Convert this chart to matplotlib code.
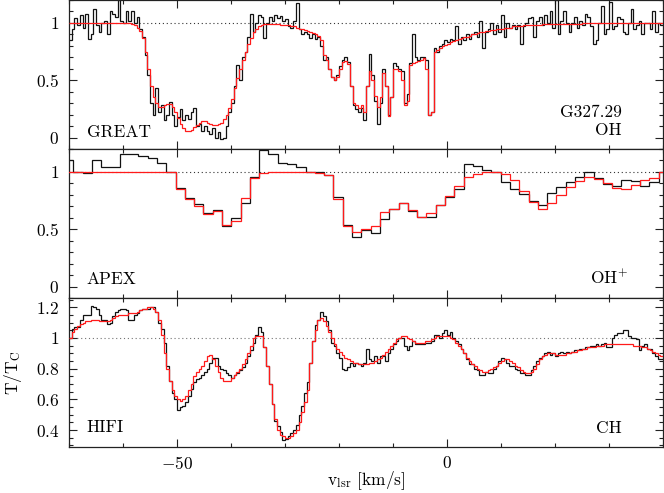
import numpy as np
import matplotlib
matplotlib.use("Agg")
import matplotlib.pyplot as plt
from matplotlib.ticker import MultipleLocator, FuncFormatter

plt.rcParams['font.family'] = ['cmr10', 'DejaVu Serif']
plt.rcParams['mathtext.fontset'] = 'cm'
plt.rcParams['axes.unicode_minus'] = False

# ---------------- data ----------------
# GREAT OH: channels of 0.5 km/s starting at -70 km/s
great_v0 = -70.0
great_dv = 0.5
great_obs = [
    0.85, 0.95, 1.04, 0.98, 1.07, 0.96, 1.08, 0.86, 0.90, 1.12,
    0.98, 0.92, 1.00, 1.02, 0.90, 1.10, 1.08, 1.05, 1.20, 1.02,
    1.00, 1.10, 1.02, 1.10, 1.00, 1.05, 0.95, 0.88, 0.72, 0.55,
    0.30, 0.20, 0.43, 0.22, 0.28, 0.15, 0.20, 0.31, 0.20, 0.10,
    0.18, 0.25, 0.15, 0.20, 0.16, 0.22, 0.26, 0.10, 0.12, 0.06,
    0.10, 0.06, 0.03, 0.08, 0.00, 0.05, -0.01, 0.00, 0.10, 0.22,
    0.30, 0.45, 0.63, 0.50, 0.70, 0.75, 0.88, 1.08, 0.92, 1.00,
    1.07, 1.05, 0.87, 1.00, 1.05, 1.02, 1.07, 1.04, 1.06, 1.02,
    1.03, 0.97, 0.96, 1.02, 1.17, 0.95, 0.90, 0.92, 0.90, 0.87,
    0.90, 0.86, 0.88, 0.80, 0.68, 0.70, 0.60, 0.53, 0.50, 0.55,
    0.62, 0.68, 0.70, 0.66, 0.45, 0.28, 0.25, 0.22, 0.26, 0.15,
    0.45, 0.73, 0.55, 0.32, 0.12, 0.30, 0.60, 0.45, 0.20, 0.35,
    0.65, 0.62, 0.60, 0.58, 0.30, 0.38, 0.65, 0.90, 0.70, 0.68,
    0.70, 0.70, 0.68, 0.20, 0.22, 0.78, 0.75, 0.80, 0.82, 0.85,
    0.83, 0.86, 0.85, 0.97, 0.82, 0.88, 0.85, 0.90, 0.86, 0.90,
    0.92, 0.88, 1.02, 0.78, 0.92, 0.95, 1.00, 0.90, 0.98, 0.92,
    1.07, 0.88, 1.00, 0.96, 0.98, 0.95, 0.98, 0.82, 0.97, 1.00,
    1.04, 1.05, 0.88, 1.02, 1.05, 0.98, 1.07, 1.00, 1.10, 0.96,
    1.20, 0.90, 1.02, 1.10, 1.00, 0.92, 1.00, 1.05, 0.96, 1.02,
    0.98, 1.08, 1.05, 0.97, 0.82, 0.85, 1.00, 1.15, 0.90, 0.95,
    1.18, 0.95, 0.97, 1.05, 1.03, 0.92, 0.90, 1.00, 1.12, 0.95,
    0.98, 1.02, 0.90, 1.00, 1.00, 0.95, 1.10, 0.92, 1.00, 0.98,
]
great_model = [
    1.00, 1.00, 1.00, 1.00, 1.00, 1.00, 1.00, 1.00, 1.00, 1.00,
    1.00, 1.00, 1.00, 1.00, 1.00, 1.00, 1.00, 1.00, 1.00, 1.00,
    1.00, 1.00, 1.00, 0.99, 0.98, 0.96, 0.93, 0.87, 0.75, 0.60,
    0.45, 0.35, 0.30, 0.27, 0.27, 0.28, 0.29, 0.29, 0.27, 0.22,
    0.17, 0.12, 0.08, 0.06, 0.06, 0.07, 0.09, 0.11, 0.13, 0.14,
    0.14, 0.13, 0.12, 0.11, 0.11, 0.12, 0.13, 0.16, 0.20, 0.26,
    0.34, 0.43, 0.52, 0.60, 0.68, 0.75, 0.82, 0.87, 0.92, 0.95,
    0.97, 0.98, 0.99, 0.99, 0.99, 0.99, 0.99, 0.99, 0.98, 0.98,
    0.98, 0.98, 0.97, 0.97, 0.96, 0.95, 0.95, 0.94, 0.93, 0.92,
    0.91, 0.90, 0.89, 0.85, 0.72, 0.68, 0.60, 0.53, 0.50, 0.53,
    0.60, 0.66, 0.67, 0.64, 0.45, 0.30, 0.28, 0.26, 0.28, 0.22,
    0.45, 0.58, 0.50, 0.36, 0.27, 0.35, 0.56, 0.45, 0.19, 0.35,
    0.60, 0.60, 0.58, 0.50, 0.28, 0.32, 0.63, 0.65, 0.66, 0.67,
    0.68, 0.69, 0.60, 0.20, 0.22, 0.75, 0.76, 0.78, 0.80, 0.81,
    0.82, 0.83, 0.84, 0.85, 0.86, 0.87, 0.88, 0.88, 0.89, 0.90,
    0.90, 0.91, 0.92, 0.92, 0.93, 0.93, 0.94, 0.94, 0.95, 0.95,
    0.95, 0.96, 0.96, 0.96, 0.97, 0.97, 0.97, 0.97, 0.98, 0.98,
    0.98, 0.98, 0.98, 0.98, 0.98, 0.99, 0.99, 0.99, 0.99, 0.99,
    0.99, 0.99, 0.99, 0.99, 0.99, 0.99, 0.99, 0.99, 0.99, 0.99,
    1.00, 1.00, 1.00, 1.00, 1.00, 1.00, 1.00, 1.00, 1.00, 1.00,
    1.00, 1.00, 1.00, 1.00, 1.00, 1.00, 1.00, 1.00, 1.00, 1.00,
    1.00, 1.00, 1.00, 1.00, 1.00, 1.00, 1.00, 1.00, 1.00, 1.00,
]

# APEX OH+: channels of 1.72 km/s starting at -70.9 km/s
apex_v0 = -70.9
apex_dv = 1.72
apex_obs = [
    1.10, 1.00, 0.99, 1.10, 1.04, 1.04, 1.16, 1.16, 1.14, 1.12,
    1.08, 1.00, 0.86, 0.77, 0.72, 0.64, 0.67, 0.53, 0.60, 0.73,
    0.96, 1.195, 1.16, 1.08, 1.07, 1.04, 1.00, 1.00, 0.97, 0.78,
    0.54, 0.43, 0.49, 0.47, 0.59, 0.68, 0.73, 0.66, 0.61, 0.61,
    0.71, 0.78, 0.85, 1.065, 1.05, 1.02, 1.00, 0.91, 0.85, 0.81,
    0.75, 0.71, 0.82, 0.865, 0.91, 0.96, 1.00, 0.95, 0.895, 0.88,
    0.93, 0.92, 0.88, 0.91, 1.00,
]
apex_model = [
    1.00, 1.00, 1.00, 1.00, 1.00, 1.00, 1.00, 1.00, 1.00, 1.00,
    1.00, 1.00, 0.85, 0.76, 0.70, 0.63, 0.66, 0.535, 0.57, 0.77,
    0.95, 0.99, 1.00, 1.00, 1.00, 1.00, 1.00, 0.99, 0.97, 0.76,
    0.53, 0.48, 0.50, 0.53, 0.65, 0.68, 0.73, 0.67, 0.605, 0.64,
    0.71, 0.79, 0.88, 0.956, 0.985, 0.997, 1.00, 0.985, 0.93, 0.83,
    0.74, 0.68, 0.73, 0.80, 0.865, 0.92, 0.953, 0.94, 0.90, 0.86,
    0.854, 0.89, 0.93, 0.95, 1.00,
]

# HIFI CH: channels of 0.5 km/s starting at -70 km/s
hifi_v0 = -70.0
hifi_dv = 0.5
hifi_obs = [
    1.00, 1.06, 1.07, 1.07, 1.12, 1.15, 1.15, 1.15, 1.21, 1.20,
    1.19, 1.15, 1.12, 1.12, 1.09, 1.10, 1.14, 1.17, 1.18, 1.19,
    1.19, 1.18, 1.12, 1.12, 1.15, 1.16, 1.18, 1.19, 1.19, 1.19,
    1.20, 1.20, 1.17, 1.10, 1.06, 0.97, 0.82, 0.72, 0.64, 0.60,
    0.53, 0.55, 0.56, 0.58, 0.62, 0.67, 0.71, 0.73, 0.74, 0.76,
    0.78, 0.80, 0.84, 0.87, 0.87, 0.82, 0.80, 0.79, 0.77, 0.76,
    0.74, 0.76, 0.77, 0.79, 0.81, 0.84, 0.88, 0.92, 0.97, 1.02,
    1.07, 1.04, 0.94, 0.82, 0.70, 0.57, 0.46, 0.425, 0.39, 0.335,
    0.34, 0.36, 0.38, 0.40, 0.43, 0.50, 0.56, 0.64, 0.71, 0.84,
    0.98, 1.087, 1.115, 1.17, 1.14, 1.11, 1.05, 0.97, 0.95, 0.90,
    0.87, 0.80, 0.79, 0.81, 0.84, 0.82, 0.84, 0.83, 0.82, 0.84,
    0.93, 0.86, 0.85, 0.88, 0.84, 0.88, 0.88, 0.85, 0.90, 0.93,
    0.96, 0.98, 1.00, 1.00, 0.95, 0.92, 0.95, 0.98, 0.96, 0.96,
    0.96, 0.96, 0.97, 0.97, 0.98, 1.02, 1.02, 1.00, 1.03, 1.05,
    1.02, 1.04, 1.00, 0.98, 0.96, 0.93, 0.90, 0.86, 0.83, 0.83,
    0.80, 0.79, 0.76, 0.76, 0.78, 0.77, 0.77, 0.80, 0.82, 0.85,
    0.87, 0.86, 0.84, 0.82, 0.82, 0.80, 0.79, 0.77, 0.77, 0.76,
    0.76, 0.79, 0.82, 0.85, 0.87, 0.88, 0.90, 0.91, 0.89, 0.90,
    0.88, 0.90, 0.91, 0.90, 0.91, 0.90, 0.91, 0.92, 0.92, 0.93,
    0.93, 0.94, 0.94, 0.95, 0.95, 0.96, 0.95, 0.96, 0.97, 0.94,
    0.94, 1.00, 1.02, 1.03, 1.03, 1.05, 1.05, 1.01, 1.00, 1.00,
    0.99, 0.92, 0.95, 0.96, 0.93, 0.93, 0.90, 0.88, 0.86, 0.86,
]
hifi_model = [
    1.00, 1.04, 1.06, 1.08, 1.09, 1.10, 1.11, 1.11, 1.12, 1.12,
    1.12, 1.11, 1.11, 1.11, 1.11, 1.12, 1.13, 1.14, 1.15, 1.15,
    1.15, 1.15, 1.16, 1.16, 1.16, 1.17, 1.18, 1.19, 1.19, 1.20,
    1.20, 1.19, 1.17, 1.12, 1.02, 0.90, 0.80, 0.72, 0.66, 0.62,
    0.60, 0.59, 0.60, 0.62, 0.66, 0.70, 0.75, 0.78, 0.80, 0.82,
    0.85, 0.88, 0.89, 0.86, 0.82, 0.78, 0.74, 0.72, 0.72, 0.72,
    0.74, 0.76, 0.78, 0.80, 0.83, 0.86, 0.90, 0.95, 1.00, 1.01,
    1.01, 1.01, 0.94, 0.82, 0.70, 0.57, 0.47, 0.40, 0.37, 0.36,
    0.35, 0.35, 0.36, 0.38, 0.40, 0.45, 0.52, 0.58, 0.66, 0.84,
    0.98, 1.05, 1.12, 1.13, 1.11, 1.08, 1.04, 1.00, 0.96, 0.93,
    0.91, 0.89, 0.87, 0.86, 0.85, 0.84, 0.84, 0.83, 0.83, 0.83,
    0.83, 0.84, 0.84, 0.85, 0.86, 0.87, 0.89, 0.91, 0.93, 0.95,
    0.97, 0.99, 1.00, 1.01, 1.01, 1.00, 0.99, 0.98, 0.97, 0.97,
    0.97, 0.97, 0.98, 0.98, 0.99, 1.00, 1.01, 1.01, 1.01, 1.01,
    1.01, 1.00, 0.99, 0.97, 0.95, 0.93, 0.90, 0.87, 0.85, 0.83,
    0.82, 0.80, 0.79, 0.78, 0.78, 0.79, 0.80, 0.81, 0.82, 0.84,
    0.85, 0.86, 0.86, 0.85, 0.84, 0.82, 0.81, 0.79, 0.78, 0.77,
    0.77, 0.78, 0.80, 0.83, 0.86, 0.88, 0.89, 0.90, 0.90, 0.90,
    0.89, 0.89, 0.89, 0.89, 0.90, 0.90, 0.91, 0.91, 0.92, 0.92,
    0.93, 0.93, 0.94, 0.94, 0.94, 0.95, 0.95, 0.95, 0.96, 0.96,
    0.96, 0.96, 0.96, 0.96, 0.96, 0.96, 0.96, 0.96, 0.96, 0.95,
    0.95, 0.95, 0.94, 0.94, 0.93, 0.92, 0.91, 0.90, 0.89, 0.88,
]

panel_left_labels = ["GREAT", "APEX", "HIFI"]
panel_right_labels = ["OH", "OH$^{+}$", "CH"]
source_name = "G327.29"

# ---------------- figure ----------------
W, H = 664, 493
fig = plt.figure(figsize=(W / 100, H / 100), dpi=100)

L = 69 / W
Wd = 594 / W
ph = 149 / H
axes = [fig.add_axes([L, (H - 149) / H, Wd, ph]),
        fig.add_axes([L, (H - 298) / H, Wd, ph]),
        fig.add_axes([L, (H - 447) / H, Wd, ph])]

series = [
    (great_v0, great_dv, great_obs, great_model),
    (apex_v0, apex_dv, apex_obs, apex_model),
    (hifi_v0, hifi_dv, hifi_obs, hifi_model),
]
ylims = [(-0.1, 1.2), (-0.1, 1.2), (0.29, 1.26)]
ymaj = [0.5, 0.5, 0.2]
ymin = [0.1, 0.1, 0.05]
dotcol = ['0.2', '0.2', '0.45']

fmt = FuncFormatter(lambda v, p: "$%g$" % round(v, 3))

for i, ax in enumerate(axes):
    v0, dv, obs, mod = series[i]
    obs = np.asarray(obs)
    mod = np.asarray(mod)
    edges = v0 + dv * np.arange(len(obs) + 1)
    ax.axhline(1.0, color=dotcol[i], lw=0.8, ls=(0, (1, 2.5)), zorder=1)
    ax.stairs(obs, edges, color='#111111', lw=0.9, zorder=2, baseline=None)
    ax.stairs(mod, edges, color='#ff1a1a', lw=0.9, zorder=3, baseline=None)
    ax.set_xlim(-70, 40)
    ax.set_ylim(*ylims[i])
    ax.xaxis.set_major_locator(MultipleLocator(50))
    ax.xaxis.set_minor_locator(MultipleLocator(10))
    ax.yaxis.set_major_locator(MultipleLocator(ymaj[i]))
    ax.yaxis.set_minor_locator(MultipleLocator(ymin[i]))
    ax.yaxis.set_major_formatter(fmt)
    ax.tick_params(which='both', direction='in', top=True, right=True,
                   width=0.8, colors='#222222', labelsize=12.5,
                   labelcolor='black')
    ax.tick_params(which='major', length=6)
    ax.tick_params(which='minor', length=3.2)
    ax.tick_params(axis='y', pad=7)
    ax.tick_params(axis='x', pad=6)
    for s in ax.spines.values():
        s.set_linewidth(0.9)
        s.set_color('#222222')
    if i < 2:
        ax.tick_params(axis='x', labelbottom=False)
    else:
        ax.xaxis.set_major_formatter(fmt)

    ax.text(0.030, [0.083, 0.092, 0.099][i], panel_left_labels[i],
            transform=ax.transAxes, ha='left', va='baseline', fontsize=12.5)

axes[0].text(0.931, 0.094, panel_right_labels[0], transform=axes[0].transAxes,
             ha='right', va='baseline', fontsize=12.5)
axes[0].text(0.931, 0.217, source_name, transform=axes[0].transAxes,
             ha='right', va='baseline', fontsize=12.5)
axes[1].text(0.941, 0.094, panel_right_labels[1], transform=axes[1].transAxes,
             ha='right', va='baseline', fontsize=12.5)
axes[2].text(0.931, 0.096, panel_right_labels[2], transform=axes[2].transAxes,
             ha='right', va='baseline', fontsize=12.5)

axes[2].set_ylabel(r"T/T$_{\mathrm{C}}$", fontsize=12.5, va='center')
axes[2].yaxis.set_label_coords(-0.094, 0.5)
axes[2].set_xlabel(r"$\mathrm{v}_{\mathrm{lsr}}$ [km/s]", fontsize=12.5,
                   va='center')
axes[2].xaxis.set_label_coords(0.5, -0.228)

fig.savefig("out.png", dpi=100)
